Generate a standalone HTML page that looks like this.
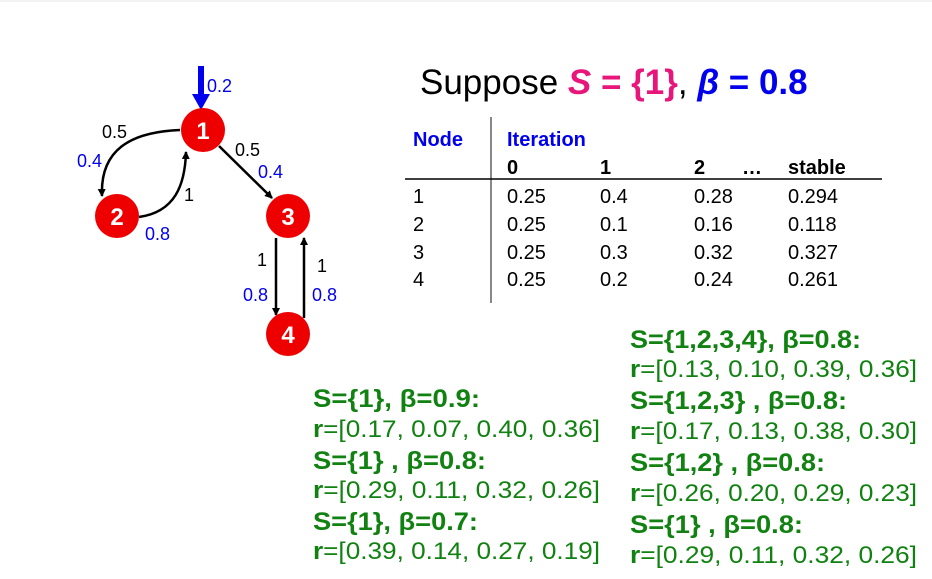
<!DOCTYPE html>
<html><head><meta charset="utf-8"><style>
html,body{margin:0;padding:0;background:#fff;}
svg{display:block;font-family:"Liberation Sans",Arial,sans-serif;}
.g{fill:#118211;font-size:24px;}
.s{fill:#118211;font-size:25px;font-weight:bold;}
.b{font-weight:bold;}
.t{font-size:20px;fill:#000;}
.lbl{font-size:18px;}
.nd{fill:#fff;font-weight:bold;font-size:24px;text-anchor:middle;}
</style></head><body>
<svg width="932" height="579" viewBox="0 0 932 579">
<defs><marker id="ah" markerWidth="8" markerHeight="8" refX="7" refY="4" orient="auto" markerUnits="userSpaceOnUse"><path d="M0,0 L8,4 L0,8 z" fill="#000"/></marker></defs>
<line x1="0" y1="1" x2="932" y2="1" stroke="#e6e6e6"/>
<g>
<path d="M198,66 L198,94 L192,94 L201,110 L210,94 L204,94 L204,66 z" fill="#0000ee"/>
<text x="207" y="92" class="lbl" fill="#0000ee">0.2</text>
<path d="M180,130 C130,132 100,150 102,196" fill="none" stroke="#000" stroke-width="2.5" marker-end="url(#ah)"/>
<path d="M139,217 C175,212 185,185 186,152" fill="none" stroke="#000" stroke-width="2.5" marker-end="url(#ah)"/>
<line x1="219" y1="146" x2="272" y2="198" stroke="#000" stroke-width="2.5" marker-end="url(#ah)"/>
<line x1="276" y1="238" x2="276" y2="315" stroke="#000" stroke-width="2.5" marker-end="url(#ah)"/>
<line x1="304" y1="318" x2="304" y2="238" stroke="#000" stroke-width="2.5" marker-end="url(#ah)"/>
<circle cx="203" cy="130" r="22" fill="#ee0000"/>
<circle cx="117" cy="216" r="22" fill="#ee0000"/>
<circle cx="288" cy="216" r="22" fill="#ee0000"/>
<circle cx="288" cy="334" r="22" fill="#ee0000"/>
<text x="203" y="139" class="nd">1</text><text x="117" y="225" class="nd">2</text><text x="288" y="225" class="nd">3</text><text x="288" y="343" class="nd">4</text>
<text x="102" y="138" class="lbl" fill="#000">0.5</text>
<text x="77" y="167" class="lbl" fill="#0000ee">0.4</text>
<text x="184" y="201" class="lbl" fill="#000">1</text>
<text x="145" y="240" class="lbl" fill="#0000ee">0.8</text>
<text x="235" y="156" class="lbl" fill="#000">0.5</text>
<text x="258" y="178" class="lbl" fill="#0000ee">0.4</text>
<text x="257" y="266" class="lbl" fill="#000">1</text>
<text x="243" y="301" class="lbl" fill="#0000ee">0.8</text>
<text x="317" y="272" class="lbl" fill="#000">1</text>
<text x="312" y="301" class="lbl" fill="#0000ee">0.8</text>
</g>
<text x="420" y="94" font-size="35"><tspan fill="#000">Suppose </tspan><tspan fill="#e8157a" font-weight="bold" font-style="italic">S</tspan><tspan fill="#e8157a" font-weight="bold"> = {1}</tspan><tspan fill="#000">, </tspan><tspan fill="#0000ee" font-style="italic" font-weight="bold">β</tspan><tspan fill="#0000ee" font-weight="bold"> = 0.8</tspan></text>
<g>
<line x1="491" y1="117" x2="491" y2="303" stroke="#888" stroke-width="2"/>
<line x1="405" y1="179" x2="882" y2="179" stroke="#000" stroke-width="1.5"/>
<text x="413" y="146" class="t b" style="fill:#0000ee">Node</text>
<text x="507" y="146" class="t b" style="fill:#0000ee">Iteration</text>
<text x="507" y="174" class="t b">0</text><text x="600" y="174" class="t b">1</text><text x="694" y="174" class="t b">2</text><text x="742" y="174" class="t b">…</text><text x="788" y="174" class="t b">stable</text>
<text x="413" y="203" class="t">1</text><text x="507" y="203" class="t">0.25</text><text x="600" y="203" class="t">0.4</text><text x="694" y="203" class="t">0.28</text><text x="788" y="203" class="t">0.294</text>
<text x="413" y="231" class="t">2</text><text x="507" y="231" class="t">0.25</text><text x="600" y="231" class="t">0.1</text><text x="694" y="231" class="t">0.16</text><text x="788" y="231" class="t">0.118</text>
<text x="413" y="259" class="t">3</text><text x="507" y="259" class="t">0.25</text><text x="600" y="259" class="t">0.3</text><text x="694" y="259" class="t">0.32</text><text x="788" y="259" class="t">0.327</text>
<text x="413" y="286" class="t">4</text><text x="507" y="286" class="t">0.25</text><text x="600" y="286" class="t">0.2</text><text x="694" y="286" class="t">0.24</text><text x="788" y="286" class="t">0.261</text>
</g>
<g>
<text x="313" y="407" class="s" textLength="167" lengthAdjust="spacingAndGlyphs">S={1},  β=0.9:</text>
<text x="313" y="437" class="g" textLength="287" lengthAdjust="spacingAndGlyphs"><tspan font-weight="bold">r</tspan>=[0.17, 0.07, 0.40, 0.36]</text>
<text x="313" y="469" class="s" textLength="173" lengthAdjust="spacingAndGlyphs">S={1} ,  β=0.8:</text>
<text x="313" y="498" class="g" textLength="287" lengthAdjust="spacingAndGlyphs"><tspan font-weight="bold">r</tspan>=[0.29, 0.11, 0.32, 0.26]</text>
<text x="313" y="530" class="s" textLength="165" lengthAdjust="spacingAndGlyphs">S={1},  β=0.7:</text>
<text x="313" y="559" class="g" textLength="287" lengthAdjust="spacingAndGlyphs"><tspan font-weight="bold">r</tspan>=[0.39, 0.14, 0.27, 0.19]</text>
</g>
<g>
<text x="630" y="348" class="s" textLength="231" lengthAdjust="spacingAndGlyphs">S={1,2,3,4},  β=0.8:</text>
<text x="630" y="377" class="g" textLength="287" lengthAdjust="spacingAndGlyphs"><tspan font-weight="bold">r</tspan>=[0.13, 0.10, 0.39, 0.36]</text>
<text x="630" y="409" class="s" textLength="217" lengthAdjust="spacingAndGlyphs">S={1,2,3} ,  β=0.8:</text>
<text x="630" y="439" class="g" textLength="287" lengthAdjust="spacingAndGlyphs"><tspan font-weight="bold">r</tspan>=[0.17, 0.13, 0.38, 0.30]</text>
<text x="630" y="471" class="s" textLength="195" lengthAdjust="spacingAndGlyphs">S={1,2} ,  β=0.8:</text>
<text x="630" y="501" class="g" textLength="287" lengthAdjust="spacingAndGlyphs"><tspan font-weight="bold">r</tspan>=[0.26, 0.20, 0.29, 0.23]</text>
<text x="630" y="533" class="s" textLength="173" lengthAdjust="spacingAndGlyphs">S={1} ,  β=0.8:</text>
<text x="630" y="563" class="g" textLength="287" lengthAdjust="spacingAndGlyphs"><tspan font-weight="bold">r</tspan>=[0.29, 0.11, 0.32, 0.26]</text>
</g>
</svg>
</body></html>
